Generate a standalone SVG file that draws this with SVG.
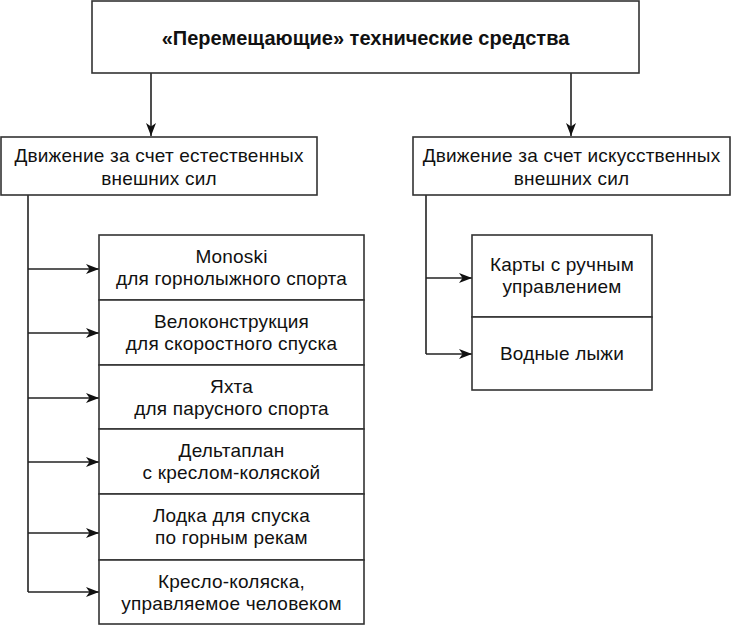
<svg xmlns="http://www.w3.org/2000/svg" width="731" height="626" viewBox="0 0 731 626">
<defs>
<style>
.box{fill:#fff;stroke:#333;stroke-width:1.6}
.t{font-family:"Liberation Sans",Arial,sans-serif;font-size:19px;letter-spacing:0.2px;fill:#111;text-anchor:middle}
.b{font-weight:bold;font-size:20px;letter-spacing:0}
.c{fill:none;stroke:#222;stroke-width:1.6}
</style>
<marker id="ah" markerUnits="userSpaceOnUse" markerWidth="14" markerHeight="12" refX="13" refY="5.5" orient="auto">
<path d="M0,0.5 L13,5.5 L0,10.5 L3.5,5.5 Z" fill="#111"/>
</marker>
</defs>
<rect width="731" height="626" fill="#fff"/>
<g id="connectors">
<line class="c" x1="151" y1="73" x2="151" y2="136" marker-end="url(#ah)"/>
<line class="c" x1="571" y1="73" x2="571" y2="136" marker-end="url(#ah)"/>
<polyline class="c" points="28,195 28,592"/>
<line class="c" x1="28" y1="269" x2="99" y2="269" marker-end="url(#ah)"/>
<line class="c" x1="28" y1="333" x2="99" y2="333" marker-end="url(#ah)"/>
<line class="c" x1="28" y1="398" x2="99" y2="398" marker-end="url(#ah)"/>
<line class="c" x1="28" y1="462" x2="99" y2="462" marker-end="url(#ah)"/>
<line class="c" x1="28" y1="533" x2="99" y2="533" marker-end="url(#ah)"/>
<line class="c" x1="28" y1="592" x2="99" y2="592" marker-end="url(#ah)"/>
<polyline class="c" points="426,195 426,354"/>
<line class="c" x1="426" y1="278" x2="472" y2="278" marker-end="url(#ah)"/>
<line class="c" x1="426" y1="354" x2="472" y2="354" marker-end="url(#ah)"/>
</g>
<g id="root">
<rect class="box" x="92" y="1" width="547" height="72"/>
<text class="t b" x="365.5" y="45">«Перемещающие» технические средства</text>
</g>
<g id="natural">
<rect class="box" x="1" y="137" width="316" height="58"/>
<text class="t" x="159" y="162">Движение за счет естественных</text>
<text class="t" x="159" y="185">внешних сил</text>
</g>
<g id="artificial">
<rect class="box" x="413" y="137" width="317" height="58"/>
<text class="t" x="571.5" y="162">Движение за счет искусственных</text>
<text class="t" x="571.5" y="185">внешних сил</text>
</g>
<g id="monoski">
<rect class="box" x="99" y="235" width="265" height="65"/>
<text class="t" x="231.5" y="263">Monoski</text>
<text class="t" x="231.5" y="285">для горнолыжного спорта</text>
</g>
<g id="velo">
<rect class="box" x="99" y="300" width="265" height="65"/>
<text class="t" x="231.5" y="328">Велоконструкция</text>
<text class="t" x="231.5" y="350">для скоростного спуска</text>
</g>
<g id="yacht">
<rect class="box" x="99" y="365" width="265" height="64"/>
<text class="t" x="231.5" y="393">Яхта</text>
<text class="t" x="231.5" y="415">для парусного спорта</text>
</g>
<g id="delta">
<rect class="box" x="99" y="429" width="265" height="65"/>
<text class="t" x="231.5" y="457">Дельтаплан</text>
<text class="t" x="231.5" y="479">с креслом-коляской</text>
</g>
<g id="boat">
<rect class="box" x="99" y="494" width="265" height="66"/>
<text class="t" x="231.5" y="522">Лодка для спуска</text>
<text class="t" x="231.5" y="544">по горным рекам</text>
</g>
<g id="wheelchair">
<rect class="box" x="99" y="560" width="265" height="64"/>
<text class="t" x="231.5" y="588">Кресло-коляска,</text>
<text class="t" x="231.5" y="610">управляемое человеком</text>
</g>
<g id="karts">
<rect class="box" x="472" y="235" width="180" height="82"/>
<text class="t" x="562" y="271">Карты с ручным</text>
<text class="t" x="562" y="293">управлением</text>
</g>
<g id="waterski">
<rect class="box" x="472" y="317" width="180" height="73"/>
<text class="t" x="562" y="360">Водные лыжи</text>
</g>
</svg>
